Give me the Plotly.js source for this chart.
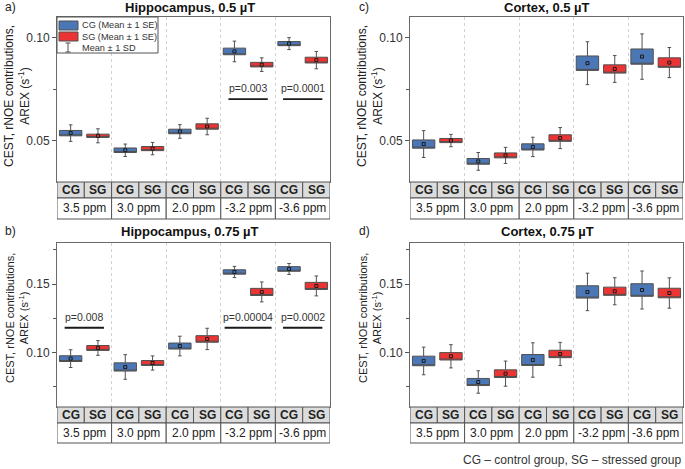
<!DOCTYPE html>
<html><head><meta charset="utf-8">
<script src="https://cdn.plot.ly/plotly-3.0.1.min.js"></script>
<style>html,body{margin:0;padding:0;background:#fff}</style>
</head><body><div id="chart" style="width:685px;height:469px"></div>
<script>
// ---------- data ----------
const shifts = ['3.5 ppm','3.0 ppm','2.0 ppm','-3.2 ppm','-3.6 ppm'];
const groups = ['CG','SG'];

const hipp05_cg_mean = [0.0537,0.0454,0.0545,0.0933,0.0971];
const hipp05_cg_se   = [0.0013,0.0011,0.0011,0.0016,0.0010];
const hipp05_cg_sd   = [0.0040,0.0030,0.0033,0.0050,0.0029];
const hipp05_sg_mean = [0.0524,0.0462,0.0569,0.0869,0.0891];
const hipp05_sg_se   = [0.0008,0.0010,0.0013,0.0011,0.0014];
const hipp05_sg_sd   = [0.0034,0.0030,0.0040,0.0033,0.0042];
const hipp05_p       = ['','','','p=0.003','p=0.0001'];

const hipp075_cg_mean = [0.0954,0.0893,0.1046,0.1588,0.1610];
const hipp075_cg_se   = [0.0021,0.0030,0.0022,0.0016,0.0017];
const hipp075_cg_sd   = [0.0065,0.0090,0.0072,0.0041,0.0040];
const hipp075_sg_mean = [0.1032,0.0922,0.1098,0.1442,0.1486];
const hipp075_sg_se   = [0.0018,0.0018,0.0024,0.0026,0.0026];
const hipp075_sg_sd   = [0.0054,0.0052,0.0078,0.0073,0.0073];
const hipp075_p       = ['p=0.008','','','p=0.00004','p=0.0002'];

const cort05_cg_mean = [0.0484,0.0400,0.0470,0.0876,0.0908];
const cort05_cg_se   = [0.0020,0.0014,0.0015,0.0035,0.0037];
const cort05_cg_sd   = [0.0065,0.0043,0.0047,0.0104,0.0110];
const cort05_sg_mean = [0.0501,0.0429,0.0513,0.0848,0.0879];
const cort05_sg_se   = [0.0010,0.0012,0.0016,0.0020,0.0023];
const cort05_sg_sd   = [0.0030,0.0039,0.0051,0.0065,0.0073];
const cort05_p       = ['','','','',''];

const cort075_cg_mean = [0.0937,0.0783,0.0944,0.1442,0.1456];
const cort075_cg_se   = [0.0035,0.0026,0.0040,0.0045,0.0046];
const cort075_cg_sd   = [0.0101,0.0082,0.0126,0.0137,0.0139];
const cort075_sg_mean = [0.0971,0.0844,0.0988,0.1447,0.1434];
const cort075_sg_se   = [0.0027,0.0028,0.0027,0.0030,0.0035];
const cort075_sg_sd   = [0.0085,0.0092,0.0085,0.0099,0.0111];
const cort075_p       = ['','','','',''];

const panelTitles = ['Hippocampus, 0.5 µT','Hippocampus, 0.75 µT','Cortex, 0.5 µT','Cortex, 0.75 µT'];
const panelLabels = ['a)','b)','c)','d)'];
const legendLabels = ['CG (Mean ± 1 SE)','SG (Mean ± 1 SE)','Mean ± 1 SD'];
const yTitle = 'CEST, rNOE contributions,<br>AREX (s<sup>-1</sup>)';
const footnote = 'CG – control group, SG – stressed group';

// ---------- layout helpers ----------
const W=685,H=469;
const px=v=>v/W, py=v=>1-v/H;
const FONT='Liberation Sans, Arial, sans-serif';
const BLUE='#4c77b6', RED='#ec3434', EDGE='#505050';

const panels = [
  {ax:'',  x0:57, x1:330, y0:17, y1:182, t1:198, t2:219, range:[0.03,0.11], titleX:190, titleY:7,   ytY:96,  ytSize:12,
   cg:[hipp05_cg_mean,hipp05_cg_se,hipp05_cg_sd], sg:[hipp05_sg_mean,hipp05_sg_se,hipp05_sg_sd], p:hipp05_p, pY:0.0702},
  {ax:'2', x0:57, x1:330, y0:243,y1:407, t1:423, t2:443, range:[0.06,0.18], titleX:190, titleY:231, ytY:318, ytSize:11,
   cg:[hipp075_cg_mean,hipp075_cg_se,hipp075_cg_sd], sg:[hipp075_sg_mean,hipp075_sg_se,hipp075_sg_sd], p:hipp075_p, pY:0.1180},
  {ax:'3', x0:410,x1:683, y0:17, y1:182, t1:198, t2:219, range:[0.03,0.11], titleX:547, titleY:7,   ytY:96,  ytSize:12,
   cg:[cort05_cg_mean,cort05_cg_se,cort05_cg_sd], sg:[cort05_sg_mean,cort05_sg_se,cort05_sg_sd], p:cort05_p, pY:0.07},
  {ax:'4', x0:410,x1:683, y0:243,y1:407, t1:423, t2:443, range:[0.06,0.18], titleX:547, titleY:231, ytY:318, ytSize:11,
   cg:[cort075_cg_mean,cort075_cg_se,cort075_cg_sd], sg:[cort075_sg_mean,cort075_sg_se,cort075_sg_sd], p:cort075_p, pY:0.118},
];
const labelX=[3,3,357,357];

const traces=[], shapes=[], annotations=[];
const layout = {width:W,height:H,margin:{l:0,r:0,t:0,b:0},paper_bgcolor:'#fff',plot_bgcolor:'#fff',
  showlegend:false, boxmode:'overlay', font:{family:FONT,color:'#222',size:12}};

panels.forEach((P,i)=>{
  const xa='x'+P.ax, ya='y'+P.ax;
  const xk='xaxis'+P.ax, yk='yaxis'+P.ax;
  layout[xk]={domain:[px(P.x0),px(P.x1)], range:[0,10], anchor:ya, showticklabels:false, ticks:'',
    showgrid:true, gridcolor:'#d2d2d2', griddash:'dot', gridwidth:1, tick0:0, dtick:2, zeroline:false,
    showline:true, mirror:true, linecolor:'#6a6a6a', linewidth:1, fixedrange:true};
  layout[yk]={domain:[py(P.y1),py(P.y0)], range:P.range, anchor:xa, tick0:0, dtick:0.05, tickformat:'.2f',
    ticks:'outside', ticklen:4, tickcolor:'#555', tickfont:{size:12,color:'#333',family:FONT},
    minor:{dtick:0.025, tick0:0, ticks:'outside', ticklen:3, tickcolor:'#555'},
    showgrid:false, zeroline:false, showline:true, mirror:true, linecolor:'#6a6a6a', linewidth:1, fixedrange:true};

  [[P.cg,BLUE,0.5],[P.sg,RED,1.5]].forEach(([d,col,off])=>{
    const [m,se,sd]=d;
    const xs=shifts.map((_,k)=>2*k+off);
    traces.push({type:'box', xaxis:xa, yaxis:ya, x:xs,
      q1:m.map((v,k)=>v-se[k]), median:m.map((v,k)=>v-se[k]), q3:m.map((v,k)=>v+se[k]),
      lowerfence:m.map((v,k)=>v-sd[k]), upperfence:m.map((v,k)=>v+sd[k]),
      width:0.82, whiskerwidth:0.16, fillcolor:col, line:{color:EDGE,width:1}, boxpoints:false, hoverinfo:'skip'});
    traces.push({type:'scatter', mode:'markers', xaxis:xa, yaxis:ya, x:xs, y:m,
      marker:{symbol:'square',size:3,color:col,line:{color:'#1a1a1a',width:1}}, hoverinfo:'skip'});
  });

  // table below plot: group row and shift row
  shifts.forEach((s,k)=>{
    groups.forEach((g,j)=>{
      shapes.push({type:'rect', xref:xa, yref:'paper', x0:2*k+j, x1:2*k+j+1, y0:py(P.t1), y1:py(P.y1),
        fillcolor:'#dcdcdc', line:{color:'#555',width:1}, layer:'above'});
      annotations.push({xref:xa, yref:'paper', x:2*k+j+0.5, y:py((P.y1+P.t1)/2), text:'<b>'+g+'</b>',
        showarrow:false, font:{size:12,color:'#222',family:FONT}, xanchor:'center', yanchor:'middle'});
    });
    shapes.push({type:'rect', xref:xa, yref:'paper', x0:2*k, x1:2*k+2, y0:py(P.t2), y1:py(P.t1),
      fillcolor:'#fff', line:{color:'#555',width:1}, layer:'above'});
    annotations.push({xref:xa, yref:'paper', x:2*k+1, y:py((P.t1+P.t2)/2), text:s,
      showarrow:false, font:{size:12,color:'#222',family:FONT}, xanchor:'center', yanchor:'middle'});
    // p-values
    if(P.p[k]){
      const half = P.p[k].length>8 ? 0.86 : 0.72;
      shapes.push({type:'line', xref:xa, yref:ya, x0:2*k+1-half, x1:2*k+1+half, y0:P.pY, y1:P.pY,
        line:{color:'#1a1a1a',width:1.8}});
      annotations.push({xref:xa, yref:ya, x:2*k+1, y:P.pY, text:P.p[k], showarrow:false, yanchor:'bottom',
        yshift:3, font:{size:10.5,color:'#333',family:FONT}});
    }
  });

  // titles, labels, y title
  annotations.push({xref:'paper',yref:'paper',x:px(P.titleX),y:py(P.titleY),text:'<b>'+panelTitles[i]+'</b>',
    showarrow:false,xanchor:'center',yanchor:'middle',font:{size:13,color:'#111',family:FONT}});
  annotations.push({xref:'paper',yref:'paper',x:px(labelX[i]),y:py(P.titleY),text:panelLabels[i],
    showarrow:false,xanchor:'left',yanchor:'middle',font:{size:12,color:'#222',family:FONT}});
  annotations.push({xref:'paper',yref:'paper',x:px(P.x0-40),y:py(P.ytY),text:yTitle,textangle:-90,
    showarrow:false,xanchor:'center',yanchor:'middle',font:{size:P.ytSize,color:'#222',family:FONT}});
});

// legend inside panel a (drawn with shapes + text)
shapes.push({type:'rect',xref:'paper',yref:'paper',x0:px(57),x1:px(158),y0:py(53),y1:py(17),
  fillcolor:'#fff',line:{color:'#555',width:1},layer:'above'});
shapes.push({type:'rect',xref:'paper',yref:'paper',x0:px(59),x1:px(78),y0:py(30),y1:py(21),
  fillcolor:BLUE,line:{color:EDGE,width:1},layer:'above'});
shapes.push({type:'rect',xref:'paper',yref:'paper',x0:px(59),x1:px(78),y0:py(41),y1:py(32),
  fillcolor:RED,line:{color:EDGE,width:1},layer:'above'});
shapes.push({type:'line',xref:'paper',yref:'paper',x0:px(68),x1:px(68),y0:py(52),y1:py(43),
  line:{color:EDGE,width:1},layer:'above'});
shapes.push({type:'line',xref:'paper',yref:'paper',x0:px(65.5),x1:px(70.5),y0:py(43),y1:py(43),
  line:{color:EDGE,width:1},layer:'above'});
shapes.push({type:'line',xref:'paper',yref:'paper',x0:px(65.5),x1:px(70.5),y0:py(52),y1:py(52),
  line:{color:EDGE,width:1},layer:'above'});
[25.5,36.5,47.5].forEach((yy,k)=>{
  annotations.push({xref:'paper',yref:'paper',x:px(80),y:py(yy),text:legendLabels[k],showarrow:false,
    xanchor:'left',yanchor:'middle',font:{size:9.2,color:'#333',family:FONT}});
});

annotations.push({xref:'paper',yref:'paper',x:px(683),y:py(460),text:footnote,showarrow:false,
  xanchor:'right',yanchor:'middle',font:{size:12,color:'#333',family:FONT}});

layout.shapes=shapes; layout.annotations=annotations;
Plotly.newPlot('chart',traces,layout,{staticPlot:true,displayModeBar:false});
</script></body></html>
